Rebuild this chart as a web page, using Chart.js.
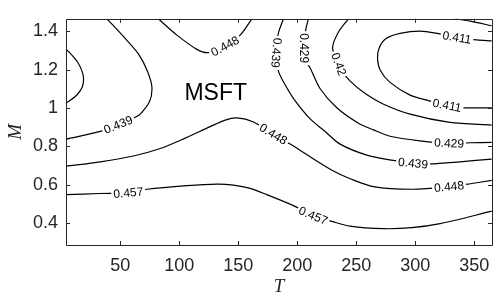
<!DOCTYPE html>
<html>
<head>
<meta charset="utf-8">
<script src="https://cdn.jsdelivr.net/npm/chart.js@4/dist/chart.umd.min.js"></script>
<style>
  html, body { margin: 0; padding: 0; background: #fff; }
  #wrap { width: 500px; height: 300px; }
</style>
</head>
<body>
<div id="wrap"><canvas id="chart" width="500" height="300"></canvas></div>
<script>
// axis ticks
const xTicks = [50, 100, 150, 200, 250, 300, 350];
const yTicks = [0.4, 0.6, 0.8, 1, 1.2, 1.4];

// contour lines as [T, M]
const leftBulge = [[4,1.306],[9.4,1.272],[14.4,1.233],[17.8,1.188],[18.9,1.149],[17.8,1.109],[13.6,1.070],[7.7,1.040],[4,1.026]];
const c439Left = [[38.7,1.464],[52.8,1.371],[65.5,1.280],[73.1,1.190],[76.8,1.108],[74.8,1.034],[66.9,0.968],[62.7,0.952],[48.3,0.912],[33.1,0.878],[4,0.838]];
const c448Top = [[82.2,1.464],[98.0,1.379],[114.9,1.305],[124.5,1.288],[138.9,1.321],[151.6,1.379],[161.5,1.464]];
const c439Right = [[188.3,1.464],[184.2,1.395],[182.1,1.321],[182.1,1.247],[184.2,1.188],[188.0,1.139],[196.7,1.050],[210.9,0.943],[223.6,0.878],[236.3,0.812],[258.9,0.755],[281.4,0.727],[298.1,0.712],[312.5,0.709],[337.9,0.720],[364.7,0.734]];
const c429 = [[209.4,1.464],[207.1,1.405],[205.8,1.321],[207.1,1.247],[210.9,1.208],[219.4,1.100],[233.5,1.001],[251.5,0.922],[264.5,0.886],[278.6,0.853],[304.0,0.829],[328.6,0.816],[346.4,0.819],[364.7,0.821]];
const c42 = [[243.3,1.464],[234.9,1.395],[229.9,1.316],[232.9,1.257],[237.1,1.198],[244.8,1.140],[257.5,1.075],[272.7,1.021],[295.6,0.968],[329.4,0.925],[364.7,0.911]];
const c411 = [[364.7,1.349],[352.0,1.354],[335.3,1.366],[319.5,1.387],[304.0,1.400],[287.1,1.388],[275.2,1.361],[269.3,1.311],[268.0,1.257],[270.2,1.198],[278.6,1.133],[295.6,1.067],[312.5,1.036],[326.9,1.013],[342.1,1.001],[364.7,1.001]];
const cCorner = [[333.7,1.464],[346.4,1.452],[364.7,1.428]];
const c448Mid = [[4,0.697],[33.1,0.720],[61.0,0.750],[83.9,0.789],[105.0,0.843],[126.2,0.903],[138.9,0.937],[148.8,0.948],[162.9,0.927],[179.6,0.863],[194.0,0.812],[210.9,0.746],[230.6,0.672],[244.8,0.632],[264.5,0.591],[297.0,0.577],[328.6,0.590],[347.8,0.607],[364.7,0.623]];
const c457 = [[4,0.549],[33.1,0.555],[56.8,0.558],[72.6,0.577],[106.5,0.596],[131.9,0.604],[145.9,0.599],[160.1,0.582],[174.2,0.549],[196.7,0.492],[213.4,0.439],[229.3,0.410],[244.8,0.385],[273.0,0.372],[297.0,0.377],[321.0,0.398],[364.7,0.463]];

const contours = { leftBulge, c439Left, c448Top, c439Right, c429, c42, c411, cCorner, c448Mid, c457 };

// inline labels: which line, text, where on the line
const contourLabels = [
  { line: 'c439Left', text: '0.439', t: 48.3, m: 0.912 },
  { line: 'c448Top', text: '0.448', t: 138.9, m: 1.321 },
  { line: 'c439Right', text: '0.439', t: 182.1, m: 1.287 },
  { line: 'c439Right', text: '0.439', t: 298.1, m: 0.712 },
  { line: 'c429', text: '0.429', t: 205.8, m: 1.311 },
  { line: 'c429', text: '0.429', t: 328.6, m: 0.816 },
  { line: 'c42', text: '0.42', t: 235.0, m: 1.228 },
  { line: 'c411', text: '0.411', t: 335.3, m: 1.366 },
  { line: 'c411', text: '0.411', t: 326.9, m: 1.013 },
  { line: 'c448Mid', text: '0.448', t: 179.6, m: 0.863 },
  { line: 'c448Mid', text: '0.448', t: 328.6, m: 0.590 },
  { line: 'c457', text: '0.457', t: 56.8, m: 0.558 },
  { line: 'c457', text: '0.457', t: 213.4, m: 0.439 }
];

const annotation = { text: 'MSFT', t: 130.9, m: 1.072 };

const sans = '"Liberation Sans", Arial, Helvetica, sans-serif';
const axisColor = '#262626';

const contourLabelsPlugin = {
  id: 'contourLabels',
  afterDatasetsDraw(chart) {
    const ctx = chart.ctx;
    const xs = chart.scales.x, ys = chart.scales.y;
    ctx.save();
    ctx.font = '12px ' + sans;
    ctx.textAlign = 'center';
    ctx.textBaseline = 'middle';
    contourLabels.forEach(lb => {
      const pts = contours[lb.line].map(p => [xs.getPixelForValue(p[0]), ys.getPixelForValue(p[1])]);
      const px = xs.getPixelForValue(lb.t), py = ys.getPixelForValue(lb.m);
      let k = 0, best = Infinity;
      pts.forEach((p, i) => {
        const d = (p[0] - px) ** 2 + (p[1] - py) ** 2;
        if (d < best) { best = d; k = i; }
      });
      const a = pts[Math.max(0, k - 1)], b = pts[Math.min(pts.length - 1, k + 1)];
      let ang = Math.atan2(b[1] - a[1], b[0] - a[0]);
      while (ang > Math.PI * 100 / 180) ang -= Math.PI;
      while (ang <= -Math.PI * 80 / 180) ang += Math.PI;
      const w = ctx.measureText(lb.text).width + 4;
      ctx.save();
      ctx.translate(px, py);
      ctx.rotate(ang);
      ctx.fillStyle = '#fff';
      ctx.fillRect(-w / 2, -6, w, 12);
      ctx.fillStyle = '#000';
      ctx.fillText(lb.text, 0, 0.5);
      ctx.restore();
    });
    // MSFT
    ctx.font = '23px ' + sans;
    ctx.fillStyle = '#000';
    ctx.fillText(annotation.text, xs.getPixelForValue(annotation.t), ys.getPixelForValue(annotation.m));
    ctx.restore();
  }
};

// box around the axes with inward ticks on all four sides
const boxPlugin = {
  id: 'box',
  afterDraw(chart) {
    const { ctx, chartArea: a } = chart;
    const xs = chart.scales.x, ys = chart.scales.y;
    const len = 4;
    ctx.save();
    ctx.strokeStyle = axisColor;
    ctx.lineWidth = 1;
    ctx.beginPath();
    ctx.rect(Math.round(a.left) + 0.5, Math.round(a.top) + 0.5, Math.round(a.right - a.left), Math.round(a.bottom - a.top));
    xTicks.forEach(v => {
      const x = Math.round(xs.getPixelForValue(v)) + 0.5;
      ctx.moveTo(x, a.bottom); ctx.lineTo(x, a.bottom - len);
      ctx.moveTo(x, a.top); ctx.lineTo(x, a.top + len);
    });
    yTicks.forEach(v => {
      const y = Math.round(ys.getPixelForValue(v)) + 0.5;
      ctx.moveTo(a.left, y); ctx.lineTo(a.left + len, y);
      ctx.moveTo(a.right, y); ctx.lineTo(a.right - len, y);
    });
    ctx.stroke();
    ctx.restore();
  }
};

const datasets = Object.entries(contours).map(([name, pts]) => ({
  label: name,
  data: pts.map(p => ({ x: p[0], y: p[1] })),
  showLine: true,
  borderColor: '#000',
  borderWidth: 1.2,
  pointRadius: 0,
  tension: 0.3,
  fill: false
}));

new Chart(document.getElementById('chart').getContext('2d'), {
  type: 'scatter',
  data: { datasets },
  options: {
    responsive: false,
    animation: false,
    devicePixelRatio: 1,
    layout: { padding: { top: 6, right: 8, left: 0, bottom: 0 } },
    plugins: { legend: { display: false }, tooltip: { enabled: false } },
    scales: {
      x: {
        type: 'linear',
        min: 4,
        max: 365,
        grid: { display: false, drawTicks: false },
        border: { display: false },
        afterBuildTicks: s => { s.ticks = xTicks.map(v => ({ value: v })); },
        afterFit: s => { s.height = 55; },
        ticks: { color: axisColor, font: { family: sans, size: 18 }, padding: 10, maxRotation: 0, autoSkip: false },
        title: { display: true, text: 'T', color: axisColor, font: { family: '"Liberation Serif", "Times New Roman", serif', size: 19, style: 'italic' }, padding: { top: 0, bottom: 2 } }
      },
      y: {
        type: 'linear',
        min: 0.287,
        max: 1.464,
        grid: { display: false, drawTicks: false },
        border: { display: false },
        afterBuildTicks: s => { s.ticks = yTicks.map(v => ({ value: v })); },
        afterFit: s => { s.width = 66; },
        ticks: { color: axisColor, font: { family: sans, size: 18 }, padding: 8, autoSkip: false, callback: v => String(v) },
        title: { display: true, text: 'M', color: axisColor, font: { family: '"Liberation Serif", "Times New Roman", serif', size: 19, style: 'italic' }, padding: { top: 5, bottom: 0 } }
      }
    }
  },
  plugins: [contourLabelsPlugin, boxPlugin]
});
</script>
</body>
</html>
